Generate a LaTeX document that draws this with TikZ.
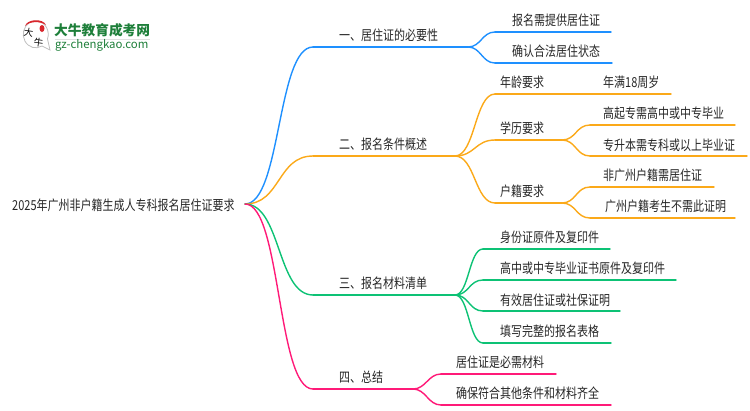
\documentclass[tikz,border=0pt]{standalone}
\usepackage{fontspec}
\setmainfont{Noto Sans CJK SC}
\usetikzlibrary{calc}
\definecolor{lineblue}{HTML}{1E90FF}
\definecolor{lineorange}{HTML}{FBA919}
\definecolor{linegreen}{HTML}{0DC275}
\definecolor{linepink}{HTML}{FF1A78}
\definecolor{logogreen}{HTML}{1E7F3A}
\definecolor{logored}{HTML}{D9262C}
\tikzset{
  lbl/.style={anchor=west,inner sep=0pt,text=black!85,font=\fontsize{11}{13}\selectfont},
  wire/.style={line width=1.4pt,line cap=round}
}
\newcommand{\lablnode}[4]{\node[lbl] (#1) at (#2,#3) {\scalebox{1}[1.25]{#4}};}
\newcommand{\pt}[3]{\coordinate (#1) at (#2,#3);}
\newcommand{\rail}[3]{\draw[wire,#1] (#2) -- (#3);}
\newcommand{\bend}[4]{\draw[wire,#1] (#2) .. controls +(#4,0) and +(-#4,0) .. (#3);}
\begin{document}
\begin{tikzpicture}[x=1pt,y=-1pt]
        \path[use as bounding box] (0,0) rectangle (750,410);

        % root
        \lablnode{root}{12}{205}{2025年广州非户籍生成人专科报名居住证要求}
        \pt{o}{245}{204}

        % branch1
        \lablnode{one}{339}{35}{一、居住证的必要性}
        \pt{ones}{313}{47} \pt{onee}{468}{47}
        \bend{lineblue}{o}{ones}{36}
        \rail{lineblue}{ones}{onee}
        \lablnode{onea}{512}{20}{报名需提供居住证}
        \lablnode{oneb}{512}{51}{确认合法居住状态}
        \pt{oneas}{495}{32} \pt{oneae}{611}{32}
        \pt{onebs}{495}{63} \pt{onebe}{612}{63}
        \bend{lineblue}{onee}{oneas}{13}
        \bend{lineblue}{onee}{onebs}{13}
        \rail{lineblue}{oneas}{oneae}
        \rail{lineblue}{onebs}{onebe}

        % branch2
        \lablnode{two}{339}{144}{二、报名条件概述}
        \pt{twos}{313}{156} \pt{twoe}{455}{156}
        \bend{lineorange}{o}{twos}{36}
        \rail{lineorange}{twos}{twoe}
        \lablnode{twoa}{500}{82}{年龄要求}
        \lablnode{twob}{500}{128}{学历要求}
        \lablnode{twoc}{500}{191}{户籍要求}
        \pt{twoas}{495}{94} \pt{twoae}{671}{94}
        \pt{twobs}{495}{140} \pt{twobe}{562}{140}
        \pt{twocs}{495}{203} \pt{twoce}{562}{203}
        \bend{lineorange}{twoe}{twoas}{20}
        \bend{lineorange}{twoe}{twobs}{20}
        \bend{lineorange}{twoe}{twocs}{20}
        \rail{lineorange}{twoas}{twoae}
        \rail{lineorange}{twobs}{twobe}
        \rail{lineorange}{twocs}{twoce}
        \lablnode{twoaa}{603}{82}{年满18周岁}
        \lablnode{twoba}{603}{113}{高起专需高中或中专毕业}
        \lablnode{twobb}{603}{145}{专升本需专科或以上毕业证}
        \lablnode{twoca}{603}{175}{非广州户籍需居住证}
        \lablnode{twocb}{605}{206}{广州户籍考生不需此证明}
        \pt{twobas}{590}{125} \pt{twobae}{735}{125}
        \pt{twobbs}{590}{156} \pt{twobbe}{747}{156}
        \pt{twocas}{590}{187} \pt{twocae}{714}{187}
        \pt{twocbs}{590}{218} \pt{twocbe}{735}{218}
        \bend{lineorange}{twobe}{twobas}{14}
        \bend{lineorange}{twobe}{twobbs}{14}
        \bend{lineorange}{twoce}{twocas}{14}
        \bend{lineorange}{twoce}{twocbs}{14}
        \rail{lineorange}{twobas}{twobae}
        \rail{lineorange}{twobbs}{twobbe}
        \rail{lineorange}{twocas}{twocae}
        \rail{lineorange}{twocbs}{twocbe}

        % branch3
        \lablnode{three}{339}{283}{三、报名材料清单}
        \pt{threes}{313}{295} \pt{threee}{455}{295}
        \bend{linegreen}{o}{threes}{36}
        \rail{linegreen}{threes}{threee}
        \lablnode{threea}{500}{237}{身份证原件及复印件}
        \lablnode{threeb}{500}{268}{高中或中专毕业证书原件及复印件}
        \lablnode{threec}{500}{300}{有效居住证或社保证明}
        \lablnode{threed}{500}{331}{填写完整的报名表格}
        \pt{threeas}{483}{249} \pt{threeae}{610}{249}
        \pt{threebs}{483}{280} \pt{threebe}{676}{280}
        \pt{threecs}{483}{311} \pt{threece}{620}{311}
        \pt{threeds}{483}{343} \pt{threede}{611}{343}
        \bend{linegreen}{threee}{threeas}{14}
        \bend{linegreen}{threee}{threebs}{14}
        \bend{linegreen}{threee}{threecs}{14}
        \bend{linegreen}{threee}{threeds}{14}
        \rail{linegreen}{threeas}{threeae}
        \rail{linegreen}{threebs}{threebe}
        \rail{linegreen}{threecs}{threece}
        \rail{linegreen}{threeds}{threede}

        % branch4
        \lablnode{four}{339}{377}{四、总结}
        \pt{fours}{313}{389} \pt{foure}{413}{389}
        \bend{linepink}{o}{fours}{36}
        \rail{linepink}{fours}{foure}
        \lablnode{foura}{456}{362}{居住证是必需材料}
        \lablnode{fourb}{456}{393}{确保符合其他条件和材料齐全}
        \pt{fouras}{441}{374} \pt{fourae}{556}{374}
        \pt{fourbs}{441}{405} \pt{fourbe}{611}{405}
        \bend{linepink}{foure}{fouras}{13}
        \bend{linepink}{foure}{fourbs}{13}
        \rail{linepink}{fouras}{fourae}
        \rail{linepink}{fourbs}{fourbe}

        % logo
        \draw[black!25,line width=0.8pt,fill=white] (50,50) -- (42,46) arc (60:380:12.5 and 13.5) -- cycle;
        \fill[logored] (25,26) .. controls (27,19) and (43,18) .. (46,25) .. controls (40,21) and (30,21) .. cycle;
        \fill[logored] (42,28.5) ellipse (2.5 and 3.5);
        \node[inner sep=0pt,font=\fontsize{9.5}{10}\selectfont,rotate=-8] (logoa) at (28.5,32.5) {大};
        \node[inner sep=0pt,font=\fontsize{9.5}{10}\selectfont,rotate=-8] (logob) at (38.5,42.5) {牛};
        \node[anchor=west,inner sep=0pt,text=logogreen,font=\fontsize{13.7}{14}\selectfont\bfseries] (logoname) at (54,30) {大牛教育成考网};
        \draw[black!12,line width=0.6pt] (55,39) -- (150,39);
        \node[anchor=west,inner sep=0pt,text=logogreen,font=\fontsize{11.4}{12}\selectfont] (logourl) at (55,45) {gz-chengkao.com};
\end{tikzpicture}
\end{document}
